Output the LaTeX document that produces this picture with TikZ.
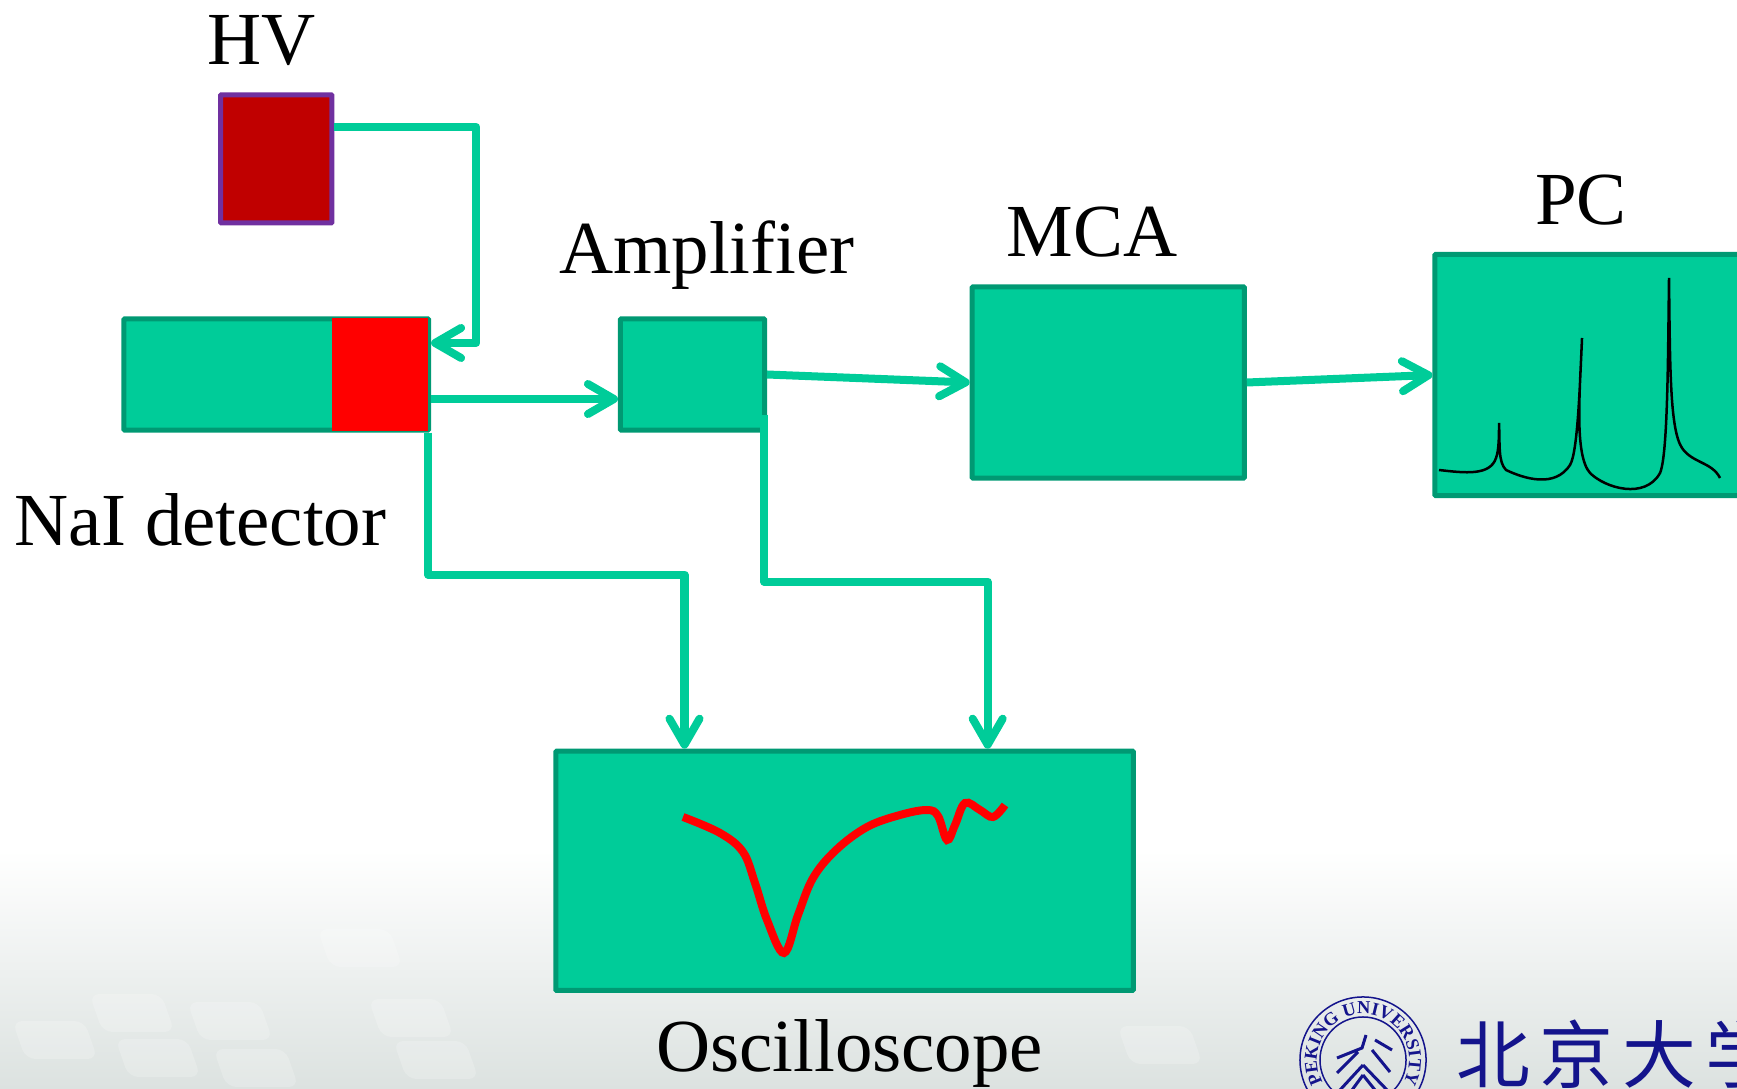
\documentclass[tikz,border=0pt]{standalone}
\usepackage{fontspec}
\setmainfont{Liberation Serif}
\newfontfamily\cjk{Noto Sans CJK SC}
\usetikzlibrary{positioning, arrows.meta, decorations.text}

\definecolor{boxgreen}{HTML}{00CC99}
\definecolor{boxedge}{HTML}{009973}
\definecolor{hvred}{HTML}{C00000}
\definecolor{hvedge}{HTML}{7030A0}
\definecolor{pkublue}{HTML}{14148C}
\definecolor{floorgrey}{HTML}{DCE2E0}

\tikzset{
  box/.style={draw=boxedge, fill=boxgreen, line width=.05cm, rounded corners=.2pt, inner sep=0pt},
  wire/.style={draw=boxgreen, line width=.08cm, line join=round, -{Straight Barb[length=.26cm,width=.3cm,round]}},
  lbl/.style={font=\fontsize{21.3}{21.3}\selectfont, anchor=base, inner sep=0pt},
  keycap/.style={fill=white, fill opacity=.2, rounded corners=.1cm},
}

\begin{document}
\begin{tikzpicture}[x=.01cm, y=-.01cm, on grid]
   \useasboundingbox (0,0) rectangle (1737,1089);
   \clip (0,0) rectangle (1737,1089);

   % backdrop
   \shade[top color=white, bottom color=floorgrey] (0,850) rectangle (1737,1089);
   \foreach \kx/\ky in {132/1013, 55/1040, 158/1058, 256/1068, 230/1021, 411/1018, 436/1060, 360/948, 1160/1045}
      \fill[shift={(\kx,\ky)}, xslant=-.35, keycap] (-36,-19) rectangle (36,19);

   % blocks
   \node[box, minimum width=3.045cm, minimum height=1.11cm] (nai) at (276.25,374.5) {};
   \node[box, draw=hvedge, fill=hvred, minimum width=1.11cm, minimum height=1.28cm] (hv) [above=2.155cm of nai] {};
   \node[fill=red, minimum width=.96cm, minimum height=1.12cm, inner sep=0pt] (crystal) [right=1.04cm of nai] {};
   \node[box, minimum width=1.44cm, minimum height=1.11cm] (amp) [right=4.16cm of nai] {};
   \node[box, minimum width=2.72cm, minimum height=1.91cm] (mca) [below right=.08cm and 4.155cm of amp] {};
   \node[box, minimum width=3.36cm, minimum height=2.41cm] (pc) [above right=.075cm and 4.945cm of mca] {};
   \node[box, minimum width=5.77cm, minimum height=2.39cm] (osc) [below right=4.96cm and 1.52cm of amp] {};

   % labels
   \node[lbl] (hvtext) [above left=.94cm and .145cm of hv, anchor=base] {HV};
   \node[lbl] (amptext) [above right=1.005cm and .145cm of amp, anchor=base] {Amplifier};
   \node[lbl] (mcatext) [above left=1.26cm and .16cm of mca, anchor=base] {MCA};
   \node[lbl] (pctext) [above left=1.505cm and .22cm of pc, anchor=base] {PC};
   \node[lbl] (naitext) [below left=1.705cm and .76cm of nai, anchor=base] {NaI detector};
   \node[lbl] (osctext) [below right=2.01cm and .05cm of osc, anchor=base] {Oscilloscope};

   % connectors
   \draw[wire] ([yshift=.32cm]hv.east) -- ++(142,0) |- ([yshift=.315cm]nai.east);
   \draw[wire] ([yshift=-.245cm]nai.east) -- ([yshift=-.245cm]amp.west);
   \draw[wire] (amp.east) -- (mca.west);
   \draw[wire] (mca.east) -- (pc.west);
   \draw[wire] ([xshift=-.03cm]nai.south east) -- ++(0,142) -| ([xshift=-1.6cm]osc.north);
   \draw[wire] ([xshift=-.03cm, yshift=-.4cm]amp.east) -- ++(0,167) -| ([xshift=1.43cm]osc.north);

   % traces
   \draw[red, line width=.08cm] plot[smooth, tension=.6] coordinates {(683,817) (720,833) (743,852) (755,883) (767,920) (784,953) (798,915) (813,878) (836,850) (867,827) (900,815) (927,810) (938,816) (947,840) (955,825) (965,803) (980,810) (993,817) (1005,805)};
   \draw[black, line width=.025cm] (1439,470) .. controls (1465,473) and (1490,476) .. (1496,458) .. controls (1499,450) and (1499,435) .. (1499,423)
      .. controls (1500,445) and (1498,462) .. (1506,470) .. controls (1525,479) and (1555,488) .. (1570,465)
      .. controls (1578,452) and (1580,380) .. (1582,338) .. controls (1580,390) and (1574,455) .. (1590,473)
      .. controls (1605,488) and (1645,500) .. (1660,473) .. controls (1668,455) and (1668,350) .. (1669,278)
      .. controls (1670,370) and (1670,430) .. (1682,448) .. controls (1692,463) and (1712,462) .. (1720,478);

   % logo
   \node[circle, draw=pkublue, line width=.015cm, minimum size=1.26cm, inner sep=0pt] (seal) at (1363,1060) {};
   \node[circle, draw=pkublue, line width=.015cm, minimum size=.86cm, inner sep=0pt] (sealin) at (seal) {};
   \path[decorate, decoration={text along path, text align=center, text color=pkublue,
      text={|\fontsize{5.2}{5.2}\selectfont\bfseries|PEKING UNIVERSITY}}]
      (seal) ++(240:.46cm) arc[start angle=240, end angle=-60, radius=.46cm];
   \draw[pkublue, line width=.03cm] (1366,1035) -- (1362,1048) -- (1337,1058) (1358,1052) -- (1337,1073)
      (1375,1040) -- (1392,1050) (1372,1050) -- (1390,1072) (1363,1065) -- (1340,1090) (1363,1065) -- (1387,1090)
      (1363,1075) -- (1352,1090) (1363,1075) -- (1375,1090);
   \node[lbl, anchor=base west, text=pkublue, font=\cjk\fontsize{21}{21}\selectfont] (pkuname) at (1456,1082) {北\hspace{.09cm}京\hspace{.09cm}大\hspace{.09cm}学};
\end{tikzpicture}
\end{document}
